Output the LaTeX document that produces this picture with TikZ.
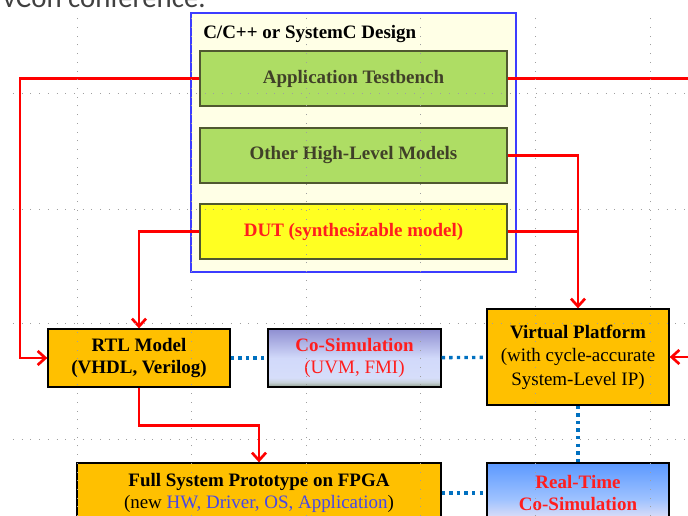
\documentclass[tikz,border=0pt]{standalone}
\usepackage{fontspec}
\setmainfont{Liberation Serif}
\newfontfamily\slidefont{Carlito}
\usepackage{xcolor}
\usetikzlibrary{arrows.meta}
\definecolor{boxorange}{RGB}{255,192,0}
\definecolor{boxgreen}{RGB}{174,221,100}
\definecolor{greenrim}{RGB}{80,88,48}
\definecolor{olivetext}{RGB}{64,64,40}
\definecolor{dutyellow}{RGB}{255,255,34}
\definecolor{designfill}{RGB}{255,255,230}
\definecolor{designblue}{RGB}{60,60,255}
\definecolor{dotblue}{RGB}{0,112,192}
\definecolor{hwblue}{RGB}{72,72,230}
\definecolor{simred}{RGB}{255,30,30}
\pgfdeclareverticalshading{cosimshade}{100bp}{rgb(0bp)=(0.55,0.62,0.55); rgb(25bp)=(0.55,0.62,0.55); rgb(29bp)=(0.78,0.82,0.85); rgb(33bp)=(0.84,0.87,0.98); rgb(50bp)=(0.82,0.85,0.98); rgb(75bp)=(0.56,0.56,0.82); rgb(100bp)=(0.56,0.56,0.82)}
\pgfdeclareverticalshading{rtshade}{100bp}{rgb(0bp)=(0.93,0.9,0.96); rgb(25bp)=(0.93,0.9,0.96); rgb(45bp)=(0.62,0.76,1); rgb(75bp)=(0.36,0.6,1); rgb(100bp)=(0.36,0.6,1)}

\begin{document}
\begin{tikzpicture}[>={Straight Barb[length=5.5pt,width=10pt]},
  main node/.style={draw=black, line width=0.9pt, fill=boxorange, align=center, inner sep=0pt, font=\fontsize{13.5}{15.5}\selectfont},
  high node/.style={draw=greenrim, line width=1pt, fill=boxgreen, text=olivetext, minimum width=7.675cm, minimum height=1.375cm, inner sep=0pt, font=\fontsize{13.5}{15.5}\selectfont\bfseries},
  link/.style={draw=red, line width=1.9pt},
  dot link/.style={draw=dotblue, line width=2.4pt, dash pattern=on 2.4pt off 3pt},
  grid line/.style={draw=gray!75, line width=0.6pt, dash pattern=on 0.6pt off 5.6pt}]
\useasboundingbox (0,0) rectangle (17.2,12.9);
\node[anchor=base west, text=black!75, font=\slidefont\fontsize{20.5}{24}\selectfont] (h) at (-0.05,12.7) {vCon conference.};
\node[draw=designblue, line width=0.8pt, fill=designfill, minimum width=8.125cm, minimum height=6.475cm] (0) at (8.8375,9.3375) {};
\node[anchor=west, inner sep=0pt, font=\fontsize{13.5}{15.5}\selectfont\bfseries] (t) at (5.075,12.05) {C/C++ or SystemC Design};
\node[high node] (1) at (8.8375,10.9375) {Application Testbench};
\node[high node] (2) at (8.8375,9.0125) {Other High-Level Models};
\node[high node, fill=dutyellow, text=simred] (3) at (8.8375,7.1125) {DUT (synthesizable model)};
\node[main node, minimum width=4.55cm, minimum height=1.45cm] (4) at (3.475,3.95) {\textbf{RTL Model}\\\textbf{(VHDL, Verilog)}};
\node[main node, shading=cosimshade, text=simred, minimum width=4.325cm, minimum height=1.45cm] (5) at (8.8625,3.95) {\textbf{Co-Simulation}\\(UVM, FMI)};
\node[main node, font=\fontsize{13.5}{16.7}\selectfont, minimum width=4.55cm, minimum height=2.4cm] (6) at (14.45,3.975) {\textbf{Virtual Platform}\\(with cycle-accurate\\System-Level IP)};
\node[main node, minimum width=9.1cm, minimum height=1.5cm] (7) at (6.475,0.575) {\textbf{Full System Prototype on FPGA}\\(new \textcolor{hwblue}{HW, Driver, OS, Application})};
\node[main node, shading=rtshade, text=simred, minimum width=4.55cm, minimum height=1.5cm] (8) at (14.45,0.575) {\textbf{Real-Time}\\\textbf{Co-Simulation}};
\draw[link,->] (1.west) -- (0.5,10.9375) |- (4.west);
\draw[link,->] (1.east) -- (17.6,10.9375) |- (6.east);
\draw[link,->] (2.east) -| (6.north);
\draw[link] (3.east) -- (14.45,7.1125);
\draw[link,->] (3.west) -| (4.north);
\draw[link,->] (4.south) -- ++(0,-0.95) -| (7.north);
\path[dot link]
(4) edge (5)
(5) edge (6)
(6) edge (8)
(7) edge (8);
\foreach \x in {0,...,5}
  \draw[grid line] ({1.925+2.865*\x},0) -- ({1.925+2.865*\x},12.575);
\foreach \y in {1.925,4.825,7.675,10.575}
  \draw[grid line] (0.325,\y) -- (17.2,\y);
\end{tikzpicture}
\end{document}
